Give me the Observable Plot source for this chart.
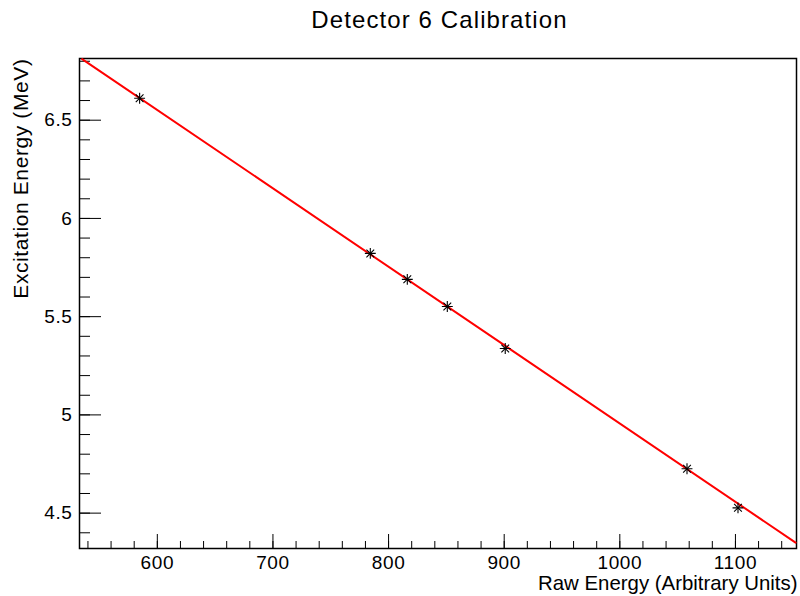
<!DOCTYPE html>
<html>
<head>
<meta charset="utf-8">
<script src="https://cdn.jsdelivr.net/npm/d3@7"></script>
<script src="https://cdn.jsdelivr.net/npm/@observablehq/plot@0.6"></script>
<style>
  html, body { margin: 0; padding: 0; background: #fff; }
  svg { display: block; }
</style>
</head>
<body>
<div id="chart"></div>
<script>
// Data points (Raw Energy vs Excitation Energy)
const rawEnergy  = [584.7, 784.2, 816.2, 850.8, 900.9, 1058.1, 1102.2];
const excitation = [6.612, 5.822, 5.690, 5.552, 5.338, 4.726, 4.527];

// Linear fit line endpoints
const fitX = [535, 1152];
const fitY = [6.811, 4.350];

// Axis ticks
const xMajor = [600, 700, 800, 900, 1000, 1100];
const xMinor = d3.range(540, 1151, 20);
const yMajor = [4.5, 5, 5.5, 6, 6.5];
const yMinor = d3.range(44, 69, 1).map(d => d / 10);

const xDomain = [532.7, 1152.8];
const yDomain = [4.320, 6.814];

const title = "Detector 6 Calibration";
const xLabel = "Raw Energy (Arbitrary Units)";
const yLabel = "Excitation Energy (MeV)";

const points = rawEnergy.map((x, i) => ({x, y: excitation[i]}));
const fit = fitX.map((x, i) => ({x, y: fitY[i]}));

const W = 800, H = 596;
const mL = 79, mR = 4, mT = 58, mB = 48;
const frameW = W - mL - mR, frameH = H - mT - mB;
const font = "'Liberation Sans', Arial, Helvetica, sans-serif";

const chart = Plot.plot({
  width: W,
  height: H,
  marginLeft: mL,
  marginRight: mR,
  marginTop: mT,
  marginBottom: mB,
  style: {fontFamily: font, background: "#fff", color: "#000"},
  x: {domain: xDomain, axis: null},
  y: {domain: yDomain, axis: null},
  marks: [
    // inward ticks
    Plot.ruleX(xMinor, {x: d => d, insetTop: frameH - 7, stroke: "#000", strokeWidth: 1}),
    Plot.ruleX(xMajor, {x: d => d, insetTop: frameH - 14, stroke: "#000", strokeWidth: 1}),
    Plot.ruleY(yMinor, {y: d => d, insetRight: frameW - 11, stroke: "#000", strokeWidth: 1}),
    Plot.ruleY(yMajor, {y: d => d, insetRight: frameW - 22, stroke: "#000", strokeWidth: 1}),
    Plot.frame({stroke: "#000", strokeWidth: 1.5}),
    // tick labels
    Plot.text(xMajor, {x: d => d, text: d => String(d), frameAnchor: "bottom", dy: 14.5,
      lineAnchor: "middle", fontSize: 19, fill: "#000"}),
    Plot.text(yMajor, {y: d => d, text: d => String(d), frameAnchor: "left", dx: -7,
      textAnchor: "end", lineAnchor: "middle", fontSize: 19, fill: "#000"}),
    // fit line
    Plot.line(fit, {x: "x", y: "y", stroke: "#ff0000", strokeWidth: 2}),
    // asterisk markers
    Plot.dot(points, {x: "x", y: "y", symbol: "plus", r: 3.6, stroke: "#000", strokeWidth: 1.1}),
    Plot.dot(points, {x: "x", y: "y", symbol: "times", r: 3.6, stroke: "#000", strokeWidth: 1.1}),
    // titles
    Plot.text([title], {frameAnchor: "top", dx: 1.5, dy: -38.6, lineAnchor: "middle",
      fontSize: 24, fill: "#000"}),
    Plot.text([xLabel], {frameAnchor: "bottom-right", dx: 1, dy: 34.7, textAnchor: "end",
      lineAnchor: "middle", fontSize: 20.4, fill: "#000"}),
    Plot.text([yLabel], {frameAnchor: "top-left", dx: -58, dy: 0, rotate: -90,
      textAnchor: "end", lineAnchor: "middle", fontSize: 21, fill: "#000"})
  ]
});
// letter spacing tweaks
chart.querySelectorAll("text").forEach(t => {
  const s = t.textContent;
  if (s === title) t.setAttribute("letter-spacing", "1.1");
  else if (s === yLabel) t.setAttribute("letter-spacing", "0.6");
  else if (/^[\d.]+$/.test(s)) t.setAttribute("letter-spacing", "0.6");
});
document.getElementById("chart").appendChild(chart);
</script>
</body>
</html>
